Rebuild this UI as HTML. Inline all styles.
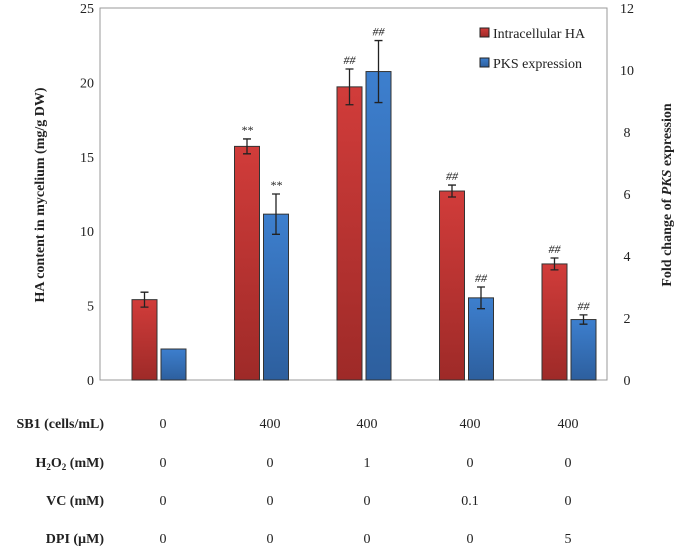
<!DOCTYPE html>
<html><head><meta charset="utf-8"><style>
body{margin:0;background:#fff;}
text{font-family:"Liberation Serif",serif;fill:#222;}
</style></head><body>
<svg width="685" height="550" viewBox="0 0 685 550" xmlns="http://www.w3.org/2000/svg">
<defs>
<linearGradient id="gr" x1="0" y1="0" x2="0" y2="1"><stop offset="0" stop-color="#d13c3a"/><stop offset="1" stop-color="#9e2a28"/></linearGradient>
<linearGradient id="gb" x1="0" y1="0" x2="0" y2="1"><stop offset="0" stop-color="#3d7fce"/><stop offset="1" stop-color="#2d5f9e"/></linearGradient>
</defs>
<rect x="100" y="8" width="507" height="372" fill="none" stroke="#999"/>
<g id="marks"></g>
<g id="axes"></g>
<text transform="translate(44,195) rotate(-90)" text-anchor="middle" font-size="14" font-weight="bold">HA content in mycelium (mg/g DW)</text>
<text transform="translate(671,195) rotate(-90)" text-anchor="middle" font-size="14" font-weight="bold">Fold change of <tspan font-style="italic">PKS</tspan> expression</text>
<g>
<rect x="480" y="28" width="9" height="9" fill="url(#gr)" stroke="#222"/>
<text x="493" y="38" font-size="14">Intracellular HA</text>
<rect x="480" y="58" width="9" height="9" fill="url(#gb)" stroke="#222"/>
<text x="493" y="68" font-size="14">PKS expression</text>
</g>
<g id="table" font-size="14"></g>
</svg>
<script>
const groups = [0,1,2,3,4];
const haValues = [5.4, 15.7, 19.7, 12.7, 7.8];
const haErrors = [0.5, 0.5, 1.2, 0.4, 0.4];
const haMarks = ["", "**", "##", "##", "##"];
const pksValues = [1.0, 5.35, 9.95, 2.65, 1.95];
const pksErrors = [0, 0.65, 1.0, 0.35, 0.15];
const pksMarks = ["", "**", "##", "##", "##"];
const leftTicks = [0,5,10,15,20,25];
const rightTicks = [0,2,4,6,8,10,12];
const rowLabels = ["SB1 (cells/mL)","H2O2 (mM)","VC (mM)","DPI (µM)"];
const tableValues = [["0","400","400","400","400"],["0","0","1","0","0"],["0","0","0","0.1","0"],["0","0","0","0","5"]];

const NS="http://www.w3.org/2000/svg";
const y0=380,y1=8;
const yL=v=>y0-(v/25)*(y0-y1);
const yR=v=>y0-(v/12)*(y0-y1);
const xc=i=>159+i*102.5;
const colX=[163,270,367,470,568];
function mk(t,a,p){const e=document.createElementNS(NS,t);for(const k in a)e.setAttribute(k,a[k]);p.appendChild(e);return e;}
const marks=document.getElementById('marks');
function bar(x,top,fill,err,errTop,errBot,lab,name){
  const r=mk('rect',{x:x,y:top,width:25,height:y0-top,fill:fill,stroke:'#333','stroke-width':1},marks);
  
  
  if(err){
    const g=mk('path',{d:`M${x+12.5},${errTop}V${errBot}M${x+8.5},${errTop}h8M${x+8.5},${errBot}h8`,stroke:'#222','stroke-width':1.3,fill:'none'},marks);
    
    
  }
  if(lab){
    const t=mk('text',{x:x+12.5,y:(err?errTop:top)-5,'text-anchor':'middle','font-size':12,'font-style':'italic'},marks);
    t.textContent=lab;
    
    
  }
}
groups.forEach(i=>{
  const xr=xc(i)-27;
  bar(xr,yL(haValues[i]),'url(#gr)',haErrors[i],yL(haValues[i]+haErrors[i]),yL(haValues[i]-haErrors[i]),haMarks[i],'ha-bar-'+(i+1));
  const xb=xc(i)+2;
  bar(xb,yR(pksValues[i]),'url(#gb)',pksErrors[i],yR(pksValues[i]+pksErrors[i]),yR(pksValues[i]-pksErrors[i]),pksMarks[i],'pks-bar-'+(i+1));
});
const axes=document.getElementById('axes');
leftTicks.forEach(v=>{
  const t=mk('text',{x:94,y:yL(v)+5,'text-anchor':'end','font-size':14},axes);t.textContent=v;
  
  
});
rightTicks.forEach(v=>{
  const t=mk('text',{x:627,y:yR(v)+5,'text-anchor':'middle','font-size':14},axes);t.textContent=v;
  
  
});
const tb=document.getElementById('table');
const rowY=[428,467,505,543];
rowLabels.forEach((l,r)=>{
  const t=mk('text',{x:104,y:rowY[r],'text-anchor':'end','font-weight':'bold'},tb);
  if(l==="H2O2 (mM)"){t.innerHTML='H<tspan font-size="9" dy="3">2</tspan><tspan dy="-3">O</tspan><tspan font-size="9" dy="3">2</tspan><tspan dy="-3"> (mM)</tspan>';}
  else t.textContent=l;
  
  
  tableValues[r].forEach((v,c)=>{
    const s=mk('text',{x:colX[c],y:rowY[r],'text-anchor':'middle'},tb);s.textContent=v;
    
    
  });
});
</script>
</body></html>
